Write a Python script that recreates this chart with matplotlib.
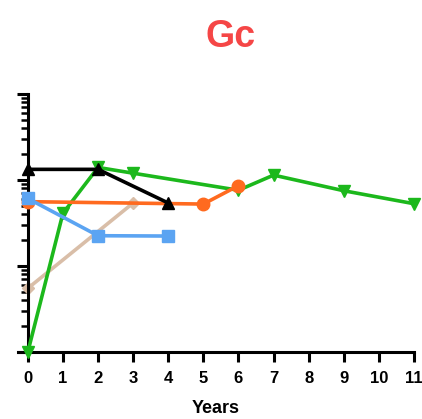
import numpy as np
import matplotlib
matplotlib.use('Agg')
import matplotlib.pyplot as plt
from matplotlib.ticker import LogLocator, NullFormatter

plt.rcParams['font.family'] = ['Liberation Sans', 'DejaVu Sans']

# series (y is on a log axis, 1..1000)
tan_x = [0, 3]
tan_y = [5.5, 54]
green_x = [0, 1, 2, 3, 6, 7, 9, 11]
green_y = [1.0, 41, 140, 120, 76, 114, 75, 53]
orange_x = [0, 5, 6]
orange_y = [56, 52.5, 86]
blue_x = [0, 2, 4]
blue_y = [61, 22.5, 22.3]
black_x = [0, 2, 4]
black_y = [133, 133, 54]

x_ticks = list(range(12))

fig = plt.figure(figsize=(4.22, 4.19), dpi=100)
ax = fig.add_axes([18 / 422, 67 / 419, 396 / 422, 258 / 419])

lw = 2.6
ax.plot(tan_x, tan_y, color='#D9BEA8', lw=lw, marker='D', ms=6, clip_on=False, zorder=2)
ax.plot(green_x, green_y, color='#1CB81C', lw=lw, marker='v', ms=9, clip_on=False, zorder=3)
ax.plot(orange_x, orange_y, color='#FF6A1F', lw=lw, marker='o', ms=9, clip_on=False, zorder=4)
ax.plot(blue_x, blue_y, color='#5BA4F2', lw=lw, marker='s', ms=8.5, clip_on=False, zorder=5)
ax.plot(black_x, black_y, color='black', lw=lw, marker='^', ms=9, clip_on=False, zorder=6)

ax.set_yscale('log')
ax.set_ylim(1, 1000)
ax.set_xlim(-0.28, 11)
ax.yaxis.set_major_locator(LogLocator(base=10, numticks=10))
ax.yaxis.set_minor_locator(LogLocator(base=10, subs=np.arange(2, 10), numticks=10))
ax.yaxis.set_major_formatter(NullFormatter())
ax.yaxis.set_minor_formatter(NullFormatter())

ax.set_xticks(x_ticks)
ax.set_xticklabels([str(t) for t in x_ticks], fontsize=12, fontweight='bold')

ax.spines['top'].set_visible(False)
ax.spines['right'].set_visible(False)
ax.spines['left'].set_position(('data', 0))
for s in ['left', 'bottom']:
    ax.spines[s].set_linewidth(2.2)
ax.tick_params(axis='x', width=2.2, length=7, pad=7)
ax.tick_params(axis='y', which='major', width=2.2, length=8)
ax.tick_params(axis='y', which='minor', width=1.8, length=5)

ax.set_xlabel('Years', fontsize=13, fontweight='bold', labelpad=9.5)
fig.text(231 / 422, 1 - 37 / 419, 'Gc', color='#F54646', fontsize=27,
         fontweight='bold', ha='center', va='center')

fig.savefig('out.png', dpi=100)
